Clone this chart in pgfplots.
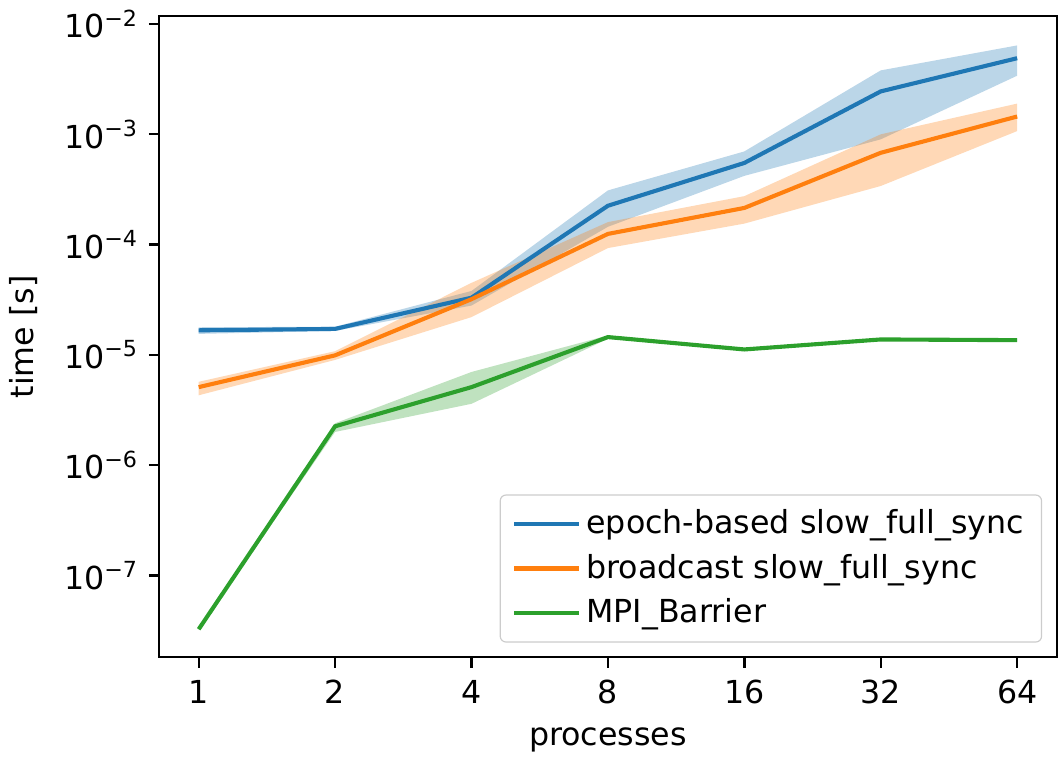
\documentclass[border=0pt]{standalone}
\usepackage{fontspec}
\setmainfont{DejaVu Sans}
\usepackage{pgfplots}
\usepackage{pgfplotstable}
\pgfplotsset{compat=1.18}
\usepgfplotslibrary{fillbetween}
\definecolor{tabblue}{HTML}{1F77B4}
\definecolor{taborange}{HTML}{FF7F0E}
\definecolor{tabgreen}{HTML}{2CA02C}
\pgfplotstableread{
x mean lo hi
1 1.67e-5 1.55e-5 1.78e-5
2 1.72e-5 1.65e-5 1.80e-5
4 3.3e-5 2.8e-5 3.8e-5
8 2.25e-4 1.45e-4 3.1e-4
16 5.5e-4 4.2e-4 7.0e-4
32 2.45e-3 9.0e-4 3.8e-3
64 4.9e-3 3.4e-3 6.4e-3
}\epoch
\pgfplotstableread{
x mean lo hi
1 5.1e-6 4.3e-6 5.7e-6
2 9.9e-6 9.0e-6 1.08e-5
4 3.2e-5 2.2e-5 4.5e-5
8 1.25e-4 9.3e-5 1.6e-4
16 2.15e-4 1.55e-4 2.75e-4
32 6.8e-4 3.4e-4 1.0e-3
64 1.45e-3 1.07e-3 1.9e-3
}\bcast
\pgfplotstableread{
x mean lo hi
1 3.25e-8 3.2e-8 3.3e-8
2 2.25e-6 2.0e-6 2.4e-6
4 5.1e-6 3.6e-6 7.0e-6
8 1.45e-5 1.4e-5 1.5e-5
16 1.12e-5 1.1e-5 1.15e-5
32 1.38e-5 1.35e-5 1.41e-5
64 1.36e-5 1.32e-5 1.4e-5
}\barrier
\begin{document}
\begin{tikzpicture}[font=\fontsize{10.8}{13}\selectfont]
\begin{axis}[
  scale only axis, width=306pt, height=218.5pt,
  xmode=log, log basis x=2, ymode=log,
  xmin=0.818, xmax=78.3, ymin=1.81e-8, ymax=1.175e-2,
  xtick={1,2,4,8,16,32,64}, xticklabels={1,2,4,8,16,32,64},
  ytick={1e-7,1e-6,1e-5,1e-4,1e-3,1e-2},
  yticklabels={10\textsuperscript{−7},10\textsuperscript{−6},10\textsuperscript{−5},10\textsuperscript{−4},10\textsuperscript{−3},10\textsuperscript{−2}},
  yminorticks=false, xminorticks=false,
  tick align=outside, xtick pos=bottom, ytick pos=left,
  major tick length=3.5pt,
  tick style={black, line width=0.8pt},
  axis line style={line width=0.8pt},
  xticklabel style={yshift=-0.8pt},
  xlabel={processes}, ylabel={time [s]},
  xlabel style={yshift=-1pt},
  ylabel style={yshift=2pt},
  legend style={at={(1,0)}, xshift=-5pt, yshift=5pt, anchor=south east, draw=black!20, rounded corners=2pt, fill=white, fill opacity=0.8, text opacity=1, row sep=1.5pt, inner xsep=4pt, inner ysep=3pt, font=\fontsize{10.8}{13}\selectfont},
  legend cell align=left,
  legend image code/.code={\draw[#1, line width=1.4pt] (0pt,0pt) -- (22pt,0pt);},
]
\addplot[tabblue, line width=1.4pt] table[x=x,y=mean]{\epoch};
\addlegendentry{epoch-based slow\_full\_sync}
\addplot[name path=eh, draw=none, forget plot] table[x=x,y=hi]{\epoch};
\addplot[name path=el, draw=none, forget plot] table[x=x,y=lo]{\epoch};
\addplot[tabblue, fill opacity=0.3, draw=none, forget plot] fill between[of=eh and el];
\addplot[taborange, line width=1.4pt] table[x=x,y=mean]{\bcast};
\addlegendentry{broadcast slow\_full\_sync}
\addplot[name path=bh, draw=none, forget plot] table[x=x,y=hi]{\bcast};
\addplot[name path=bl, draw=none, forget plot] table[x=x,y=lo]{\bcast};
\addplot[taborange, fill opacity=0.3, draw=none, forget plot] fill between[of=bh and bl];
\addplot[tabgreen, line width=1.4pt] table[x=x,y=mean]{\barrier};
\addlegendentry{MPI\_Barrier}
\addplot[name path=mh, draw=none, forget plot] table[x=x,y=hi]{\barrier};
\addplot[name path=ml, draw=none, forget plot] table[x=x,y=lo]{\barrier};
\addplot[tabgreen, fill opacity=0.3, draw=none, forget plot] fill between[of=mh and ml];
\end{axis}
\end{tikzpicture}
\end{document}
